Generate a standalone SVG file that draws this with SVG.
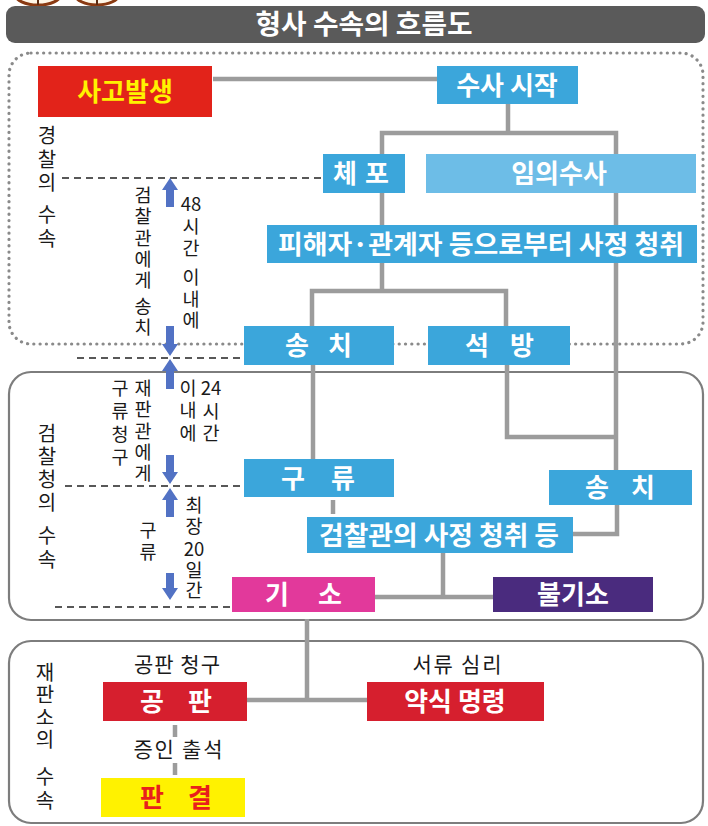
<svg xmlns="http://www.w3.org/2000/svg" width="708" height="826" viewBox="0 0 708 826">
<style>
.bx{font-family:"Noto Sans CJK KR","Noto Sans",sans-serif;font-weight:700;font-size:26px;text-anchor:middle;fill:#fff}
.v{font-family:"Noto Sans CJK KR","Noto Sans",sans-serif;font-weight:400;text-anchor:middle;fill:#1a1a1a;writing-mode:vertical-rl}
.lb{font-size:20px;letter-spacing:3.5px}
.sm{font-family:"Noto Sans CJK KR","Noto Sans",sans-serif;font-weight:400;font-size:18.5px;text-anchor:middle;fill:#1a1a1a}
.hz{font-family:"Noto Sans CJK KR","Noto Sans",sans-serif;font-weight:400;font-size:21px;text-anchor:middle;fill:#1a1a1a}
.cn{fill:none;stroke:#9c9c9c;stroke-width:4.5}
.ds{fill:none;stroke:#222;stroke-width:1.5;stroke-dasharray:7 5}
.blue{fill:#3ba6db}
.arr{fill:#5272c4}
</style>
<rect width="708" height="826" fill="#fff"/>
<g id="icons">
<ellipse cx="38" cy="-6" rx="23" ry="11" fill="#fff6e6" stroke="#8a3a12" stroke-width="3"/>
<line x1="38" y1="-4" x2="38" y2="5" stroke="#5a2a10" stroke-width="2"/>
<ellipse cx="97" cy="-6" rx="22" ry="11" fill="#fff6e6" stroke="#8a3a12" stroke-width="3"/>
<line x1="97" y1="-4" x2="97" y2="5" stroke="#5a2a10" stroke-width="2"/>
</g>
<g id="title">
<rect x="6" y="6" width="699" height="37" rx="9" fill="#5a5a5a"/>
<text x="364" y="34" class="bx" style="font-size:27px" textLength="217" lengthAdjust="spacingAndGlyphs">형사 수속의 흐름도</text>
</g>
<g id="sections">
<rect x="9" y="53" width="694" height="291" rx="22" fill="none" stroke="#8a8a8a" stroke-width="3.2" stroke-linecap="round" stroke-dasharray="0.1 6.2"/>
<rect x="9" y="372" width="694" height="248" rx="22" fill="none" stroke="#7d7d7d" stroke-width="2.2"/>
<rect x="9" y="641" width="694" height="182" rx="22" fill="none" stroke="#7d7d7d" stroke-width="2.2"/>
</g>
<g id="connectors">
<path class="cn" d="M213 79H437"/>
<path class="cn" d="M508 104V133M382 154V133H616V154"/>
<path class="cn" d="M382 193V225M616 193V225"/>
<path class="cn" d="M382 263V291M312 326V291H506V326"/>
<path class="cn" d="M616 263V470"/>
<path class="cn" d="M313 365V459"/>
<path class="cn" d="M507 365V437H617"/>
<path class="cn" d="M333 500V514"/>
<path class="cn" d="M617 505V534H573"/>
<path class="cn" d="M443 553V597M375 597H493"/>
<path class="cn" d="M307 619V700M247 700H367"/>
<path class="cn" d="M175 725V737M175 763V775"/>
<path class="ds" d="M62 178H322M77 358H244M65 486H244M55 607H232"/>
<polygon class="arr" points="170,178 178,190 174,190 174,207 166,207 166,190 162,190"/>
<polygon class="arr" points="170,356 178,344 174,344 174,326 166,326 166,344 162,344"/>
<polygon class="arr" points="170,359 178,371 174,371 174,389 166,389 166,371 162,371"/>
<polygon class="arr" points="170,484 178,472 174,472 174,455 166,455 166,472 162,472"/>
<polygon class="arr" points="170,488 178,500 174,500 174,517 166,517 166,500 162,500"/>
<polygon class="arr" points="170,600 178,588 174,588 174,573 166,573 166,588 162,588"/>
</g>
<g id="n-accident"><rect x="38" y="66" width="174" height="51" fill="#e2231a"/><text x="125" y="101" class="bx" style="fill:#fff200">사고발생</text></g>
<g id="n-start"><rect x="437" y="66" width="141" height="38" class="blue"/><text x="507" y="94.5" class="bx">수사 시작</text></g>
<g id="n-arrest"><rect x="323" y="154" width="82" height="39" class="blue"/><text x="345 377" y="183" class="bx">체포</text></g>
<g id="n-voluntary"><rect x="426" y="154" width="270" height="39" fill="#6dbde7"/><text x="559" y="183" class="bx">임의수사</text></g>
<g id="n-hearing"><rect x="267" y="225" width="430" height="38" class="blue"/><text x="481" y="253.5" class="bx" textLength="406" lengthAdjust="spacingAndGlyphs">피해자·관계자 등으로부터 사정 청취</text></g>
<g id="n-send1"><rect x="244" y="326" width="150" height="39" class="blue"/><text x="297 340" y="355" class="bx">송치</text></g>
<g id="n-release"><rect x="428" y="326" width="142" height="39" class="blue"/><text x="477 522" y="355" class="bx">석방</text></g>
<g id="n-detain"><rect x="244" y="459" width="150" height="38" class="blue"/><text x="293 343" y="487.5" class="bx">구류</text></g>
<g id="n-send2"><rect x="549" y="470" width="143" height="35" class="blue"/><text x="597 643" y="497" class="bx">송치</text></g>
<g id="n-prosecutor"><rect x="307" y="517" width="266" height="36" class="blue"/><text x="439" y="544.5" class="bx" textLength="240" lengthAdjust="spacingAndGlyphs">검찰관의 사정 청취 등</text></g>
<g id="n-indict"><rect x="232" y="577" width="143" height="35" fill="#e2399b"/><text x="277 330" y="604" class="bx">기소</text></g>
<g id="n-noindict"><rect x="493" y="577" width="160" height="35" fill="#4a2b7e"/><text x="573" y="604" class="bx">불기소</text></g>
<g id="n-trial"><rect x="103" y="682" width="144" height="39" fill="#d61f2e"/><text x="152 200" y="711" class="bx">공판</text></g>
<g id="n-summary"><rect x="367" y="682" width="177" height="39" fill="#d61f2e"/><text x="455" y="711" class="bx">약식 명령</text></g>
<g id="n-judgment"><rect x="101" y="778" width="144" height="39" fill="#fff200"/><text x="152 200" y="807" class="bx" style="fill:#e8201c">판결</text></g>
<g id="labels">
<text class="v lb" x="47" y="161">경찰의</text>
<text class="v lb" x="47" y="228">수속</text>
<text class="v" x="143" y="239" style="font-size:18.5px;letter-spacing:2.8px">검찰관에게</text>
<text class="v" x="143" y="318" style="font-size:18.5px;letter-spacing:3px">송치</text>
<text class="sm" x="191" y="211">48</text>
<text class="v" x="191" y="239" style="font-size:18.5px;letter-spacing:3.5px">시간</text>
<text class="v" x="191" y="300" style="font-size:18.5px;letter-spacing:3px">이내에</text>
<text class="v" x="120" y="425" style="font-size:18.5px;letter-spacing:4.5px">구류청구</text>
<text class="v" x="143" y="432" style="font-size:18.5px;letter-spacing:2.8px">재판관에게</text>
<text class="v" x="188" y="412" style="font-size:18.5px;letter-spacing:4px">이내에</text>
<text class="sm" x="211" y="395">24</text>
<text class="v" x="211" y="424" style="font-size:18.5px;letter-spacing:3.5px">시간</text>
<text class="v lb" x="47" y="469" style="letter-spacing:3px">검찰청의</text>
<text class="v lb" x="47" y="549">수속</text>
<text class="v" x="194" y="517" style="font-size:18.5px;letter-spacing:2.5px">최장</text>
<text class="sm" x="194" y="556">20</text>
<text class="v" x="194" y="581" style="font-size:18.5px;letter-spacing:1.5px">일간</text>
<text class="v" x="148" y="543" style="font-size:18.5px;letter-spacing:3.5px">구류</text>
<text class="v lb" x="45" y="707" style="letter-spacing:2.3px">재판소의</text>
<text class="v lb" x="45" y="790">수속</text>
<text x="177" y="672" class="hz" textLength="86">공판 청구</text>
<text x="457" y="672" class="hz" textLength="89">서류 심리</text>
<text x="178" y="757" class="hz" textLength="89">증인 출석</text>
</g>
</svg>
